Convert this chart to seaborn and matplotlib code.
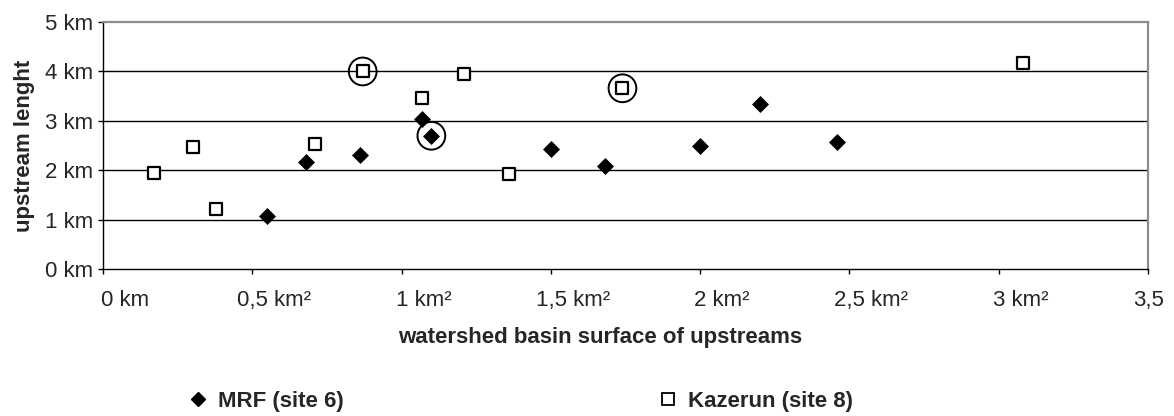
import matplotlib
matplotlib.use("Agg")
import matplotlib.pyplot as plt
import matplotlib.transforms as mtransforms
from matplotlib.lines import Line2D
import seaborn as sns
import pandas as pd

# Basin surface (km²) and upstream length (km) per upstream
mrf_surface = [0.55, 0.68, 0.86, 1.07, 1.10, 1.50, 1.68, 2.00, 2.20, 2.46]
mrf_length = [1.08, 2.17, 2.31, 3.04, 2.70, 2.43, 2.09, 2.49, 3.35, 2.57]
mrf_circled = [False, False, False, False, True, False, False, False, False, False]

kaz_surface = [0.17, 0.30, 0.38, 0.71, 0.87, 1.07, 1.21, 1.36, 1.74, 3.08]
kaz_length = [1.94, 2.47, 1.21, 2.53, 4.00, 3.46, 3.94, 1.93, 3.66, 4.17]
kaz_circled = [False, False, False, False, True, False, False, False, True, False]

series_names = ["MRF (site 6)", "Kazerun (site 8)"]
x_ticks = [0, 0.5, 1, 1.5, 2, 2.5, 3, 3.5]
x_tick_labels = ["0 km", "0,5 km²", "1 km²", "1,5 km²", "2 km²", "2,5 km²", "3 km²", "3,5"]
y_ticks = [0, 1, 2, 3, 4, 5]
y_tick_labels = ["0 km", "1 km", "2 km", "3 km", "4 km", "5 km"]

mrf = pd.DataFrame({"surface": mrf_surface, "length": mrf_length, "circled": mrf_circled})
kaz = pd.DataFrame({"surface": kaz_surface, "length": kaz_length, "circled": kaz_circled})

sns.set_style("white")
plt.rcParams["font.family"] = ["Liberation Sans", "DejaVu Sans"]
FS = 16

fig = plt.figure(figsize=(11.74, 4.16), dpi=100)
ax = fig.add_axes([0.0877, 0.3526, 0.8901, 0.5945])

# horizontal grid lines
for yv in y_ticks[1:-1]:
    ax.axhline(yv, color="black", lw=1.0, zorder=1)

sns.scatterplot(data=mrf, x="surface", y="length", ax=ax, marker="D", s=75,
                color="black", edgecolor="black", linewidth=0, zorder=3, legend=False)
sns.scatterplot(data=kaz, x="surface", y="length", ax=ax, marker="s", s=70,
                facecolor="white", edgecolor="black", linewidth=1.6, zorder=3, legend=False)

# highlighted points
circ = pd.concat([mrf[mrf["circled"]], kaz[kaz["circled"]]])
sns.scatterplot(data=circ, x="surface", y="length", ax=ax, marker="o", s=400,
                facecolor="none", edgecolor="black", linewidth=1.4, zorder=4, legend=False)

ax.set_xlim(0, 3.5)
ax.set_ylim(0, 5)
ax.set_xticks(x_ticks)
ax.set_xticklabels(x_tick_labels)
ax.set_yticks(y_ticks)
ax.set_yticklabels(y_tick_labels)
ax.tick_params(axis="both", direction="out", length=3.6, width=1, color="black",
               labelsize=FS, bottom=True, left=True)
ax.tick_params(axis="y", pad=3.5)
ax.tick_params(axis="x", pad=11)

# category labels sit a little to the right of their ticks
labels = ax.get_xticklabels()
for i, lab in enumerate(labels):
    dx = 0.22 if i < len(labels) - 1 else 0.005
    lab.set_transform(lab.get_transform()
                      + mtransforms.ScaledTranslation(dx, 0, fig.dpi_scale_trans))

for side in ["top", "right"]:
    ax.spines[side].set_color("#8c8c8c")
    ax.spines[side].set_linewidth(1.6)
for side in ["left", "bottom"]:
    ax.spines[side].set_color("black")
    ax.spines[side].set_linewidth(1)

ax.set_xlabel("watershed basin surface of upstreams", fontsize=FS, fontweight="bold", labelpad=12)
ax.xaxis.label.set_x(0.4756)
ax.set_ylabel("upstream lenght", fontsize=FS, fontweight="bold", labelpad=7)

h1 = Line2D([], [], marker="D", ls="none", color="black", markersize=7)
h2 = Line2D([], [], marker="s", ls="none", markerfacecolor="white",
            markeredgecolor="black", markersize=8, markeredgewidth=1.3)
common = dict(loc="center left", frameon=False, prop={"size": FS, "weight": "bold"},
              handletextpad=0.51, handlelength=0.8, borderpad=0, borderaxespad=0)
fig.legend([h1], [series_names[0]], bbox_to_anchor=(0.1612, 0.035), **common)
fig.legend([h2], [series_names[1]], bbox_to_anchor=(0.5615, 0.035), **common)

fig.savefig("out.png", dpi=100, facecolor="white")
